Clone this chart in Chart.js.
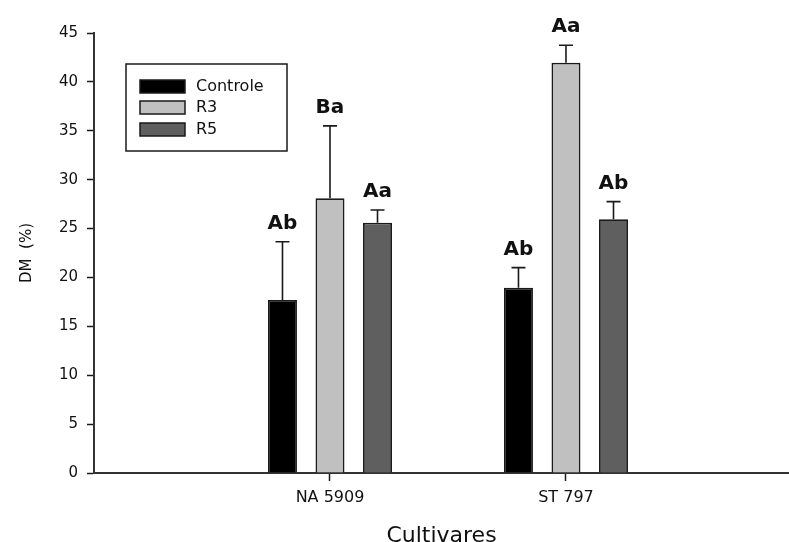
<!DOCTYPE html>
<html><head><meta charset="utf-8">
<script src="https://cdn.jsdelivr.net/npm/chart.js@4"></script>
<style>html,body{margin:0;padding:0;background:#fff;overflow:hidden}canvas{display:block}</style>
</head><body>
<canvas id="c" width="789" height="542"></canvas>
<script>
// ---- data ----
const categories = ['NA 5909', 'ST 797'];
const seriesNames = ['Controle', 'R3', 'R5'];
const controle = [17.7, 18.95];
const r3 = [28.1, 41.95];
const r5 = [25.6, 25.95];
const controleErr = [5.95, 2.05];
const r3Err = [7.4, 1.8];
const r5Err = [1.3, 1.8];
const controleLetters = ['Ab', 'Ab'];
const r3Letters = ['Ba', 'Aa'];
const r5Letters = ['Aa', 'Ab'];
const yTicks = [0, 5, 10, 15, 20, 25, 30, 35, 40, 45];

// ---- styles ----
const fills = ['#000000', '#c0c0c0', '#5f5f5f'];
const values = [controle, r3, r5];
const errs = [controleErr, r3Err, r5Err];
const letters = [controleLetters, r3Letters, r5Letters];
const FONT = '"DejaVu Sans", sans-serif';
const INK = '#1a1a1a';

const datasets = seriesNames.map((name, s) => ({
  label: name,
  data: values[s].map((v, i) => ({ x: i + 1, y: v })),
  err: errs[s],
  letters: letters[s],
  backgroundColor: fills[s],
  borderColor: INK,
  borderWidth: 1.8,
  categoryPercentage: 0.604,
  barPercentage: 0.61
}));

const errorBarPlugin = {
  id: 'errorBars',
  afterDatasetsDraw(chart) {
    const ctx = chart.ctx;
    const yScale = chart.scales.y;
    ctx.save();
    chart.data.datasets.forEach((ds, di) => {
      const meta = chart.getDatasetMeta(di);
      meta.data.forEach((el, i) => {
        const v = ds.data[i].y;
        const top = yScale.getPixelForValue(v + ds.err[i]);
        ctx.strokeStyle = INK;
        ctx.lineWidth = 1.6;
        ctx.beginPath();
        ctx.moveTo(el.x, el.y);
        ctx.lineTo(el.x, top);
        ctx.moveTo(el.x - 7, top);
        ctx.lineTo(el.x + 7, top);
        ctx.stroke();
        ctx.fillStyle = '#111';
        ctx.font = 'bold 20px ' + FONT;
        ctx.textAlign = 'center';
        ctx.textBaseline = 'alphabetic';
        ctx.fillText(ds.letters[i], el.x, top - 13);
      });
    });
    ctx.restore();
  }
};

const legendPlugin = {
  id: 'boxLegend',
  afterDraw(chart) {
    const ctx = chart.ctx;
    ctx.save();
    ctx.fillStyle = '#fff';
    ctx.fillRect(126, 64, 161, 87);
    ctx.strokeStyle = INK;
    ctx.lineWidth = 1.5;
    ctx.strokeRect(126, 64, 161, 87);
    const rowY = [86.5, 107.5, 129.5];
    chart.data.datasets.forEach((ds, i) => {
      const cy = rowY[i];
      ctx.fillStyle = ds.backgroundColor;
      ctx.fillRect(140, cy - 6.5, 45, 13);
      ctx.strokeStyle = INK;
      ctx.lineWidth = 1.5;
      ctx.strokeRect(140, cy - 6.5, 45, 13);
      ctx.fillStyle = '#111';
      ctx.font = '16px ' + FONT;
      ctx.textAlign = 'left';
      ctx.textBaseline = 'middle';
      ctx.fillText(ds.label, 196, cy);
    });
    ctx.restore();
  }
};

new Chart(document.getElementById('c'), {
  type: 'bar',
  data: { datasets },
  plugins: [errorBarPlugin, legendPlugin],
  options: {
    responsive: false,
    animation: false,
    layout: { padding: { top: 33, left: 0, right: 0, bottom: 0 } },
    plugins: { legend: { display: false }, tooltip: { enabled: false } },
    scales: {
      x: {
        type: 'linear',
        min: 0,
        max: 2.945,
        offset: false,
        afterBuildTicks(scale) { scale.ticks = categories.map((c, i) => ({ value: i + 1 })); },
        afterFit(scale) { scale.height = 69; },
        ticks: {
          callback: (v) => categories[v - 1] || '',
          color: '#111',
          font: { family: FONT, size: 16 },
          padding: 7,
          maxRotation: 0
        },
        grid: { offset: false, drawOnChartArea: false, tickLength: 8, tickColor: INK, tickWidth: 1.5 },
        border: { color: '#333', width: 2 },
        title: {
          display: true,
          text: 'Cultivares',
          color: '#111',
          font: { family: FONT, size: 22, lineHeight: 0.55 },
          padding: { top: 0, bottom: 0 }
        }
      },
      y: {
        min: 0,
        max: 45,
        afterBuildTicks(scale) { scale.ticks = yTicks.map(v => ({ value: v })); },
        afterFit(scale) { scale.width = 94; },
        ticks: {
          color: '#111',
          font: { family: FONT, size: 15 },
          padding: 9
        },
        grid: { drawOnChartArea: false, tickLength: 7, tickColor: INK, tickWidth: 1.5 },
        border: { color: '#333', width: 2 },
        title: {
          display: true,
          text: 'DM  (%)',
          color: '#111',
          font: { family: FONT, size: 15 },
          padding: { top: 18, bottom: 0 }
        }
      }
    }
  }
});
</script>
</body></html>
